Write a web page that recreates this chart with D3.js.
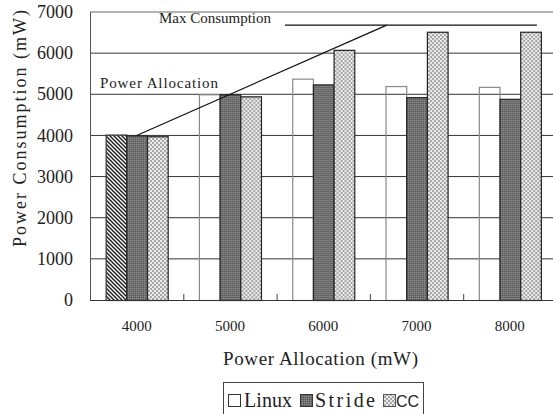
<!DOCTYPE html>
<html lang="en">
<head>
<meta charset="utf-8">
<title>Power Consumption</title>
<script src="https://cdn.jsdelivr.net/npm/d3@7"></script>
<style>
body { margin: 0; background: #fff; }
svg { display: block; }
.lbl { font-family: "Liberation Serif", "DejaVu Serif", serif; fill: #222; }
.serif { font-family: "Liberation Serif", serif; fill: #222; }
</style>
</head>
<body>
<script>
// values
var categories = ["4000", "5000", "6000", "7000", "8000"];
var seriesNames = ["Linux", "Stride", "CC"];
var linux  = [4020, 5000, 5380, 5200, 5180];
var stride = [4000, 5000, 5240, 4930, 4890];
var cc     = [3980, 4950, 6080, 6520, 6520];
var yTicks = [0, 1000, 2000, 3000, 4000, 5000, 6000, 7000];
var allocationLine = [[4000, 4000], [6680, 6680]];
var maxConsumptionLine = [[5590, 6680], [8290, 6680]];

var width = 553, height = 414;
var margin = {top: 12, left: 90, bottom: 300, right: 556.5};

var svg = d3.select("body").append("svg")
    .attr("width", width)
    .attr("height", height);

// patterns
var defs = svg.append("defs");
var hatch = defs.append("pattern").attr("id", "hatch")
    .attr("width", 4).attr("height", 4).attr("patternUnits", "userSpaceOnUse");
hatch.append("rect").attr("width", 4).attr("height", 4).attr("fill", "#fff");
hatch.append("path").attr("d", "M-1,-1L5,5M-1,3L1,5M3,-1L5,1")
    .attr("stroke", "#222").attr("stroke-width", 1.5);

var dark = defs.append("pattern").attr("id", "dark")
    .attr("width", 2).attr("height", 2).attr("patternUnits", "userSpaceOnUse");
dark.append("rect").attr("width", 2).attr("height", 2).attr("fill", "#707070");
dark.append("rect").attr("width", 1).attr("height", 1).attr("fill", "#8c8c8c");
dark.append("rect").attr("x", 1).attr("y", 1).attr("width", 1).attr("height", 1).attr("fill", "#5a5a5a");

var check = defs.append("pattern").attr("id", "check")
    .attr("width", 4).attr("height", 4).attr("patternUnits", "userSpaceOnUse");
check.append("rect").attr("width", 4).attr("height", 4).attr("fill", "#ececec");
check.append("rect").attr("width", 2).attr("height", 2).attr("fill", "#a6a6a6");
check.append("rect").attr("x", 2).attr("y", 2).attr("width", 2).attr("height", 2).attr("fill", "#a6a6a6");

var x = d3.scaleBand()
    .domain(categories)
    .range([margin.left, margin.right])
    .padding(0);

var groupW = x.bandwidth() * 0.665;
var xSub = d3.scaleBand()
    .domain(seriesNames)
    .range([(x.bandwidth() - groupW) / 2, (x.bandwidth() + groupW) / 2]);

var xLin = d3.scaleLinear()
    .domain([4000, 8000])
    .range([x("4000") + x.bandwidth() / 2, x("8000") + x.bandwidth() / 2]);

var y = d3.scaleLinear()
    .domain([0, 7000])
    .range([margin.bottom, margin.top]);

// gridlines
svg.append("g").selectAll("line")
    .data(yTicks.slice(1))
    .enter().append("line")
    .attr("x1", margin.left).attr("x2", margin.right)
    .attr("y1", function(d) { return y(d); })
    .attr("y2", function(d) { return y(d); })
    .attr("stroke", function(d) { return d == 7000 ? "#666" : "#333"; })
    .attr("stroke-width", 1);

// y tick labels
svg.append("g").selectAll("text")
    .data(yTicks)
    .enter().append("text")
    .attr("class", "serif")
    .attr("x", 73)
    .attr("y", function(d) { return y(d); })
    .attr("dy", "0.34em")
    .attr("text-anchor", "end")
    .style("font-size", "18px")
    .text(function(d) { return d; });

// bars
var rows = categories.map(function(c, i) {
    return [
        {cat: c, key: "Linux", value: linux[i], i: i},
        {cat: c, key: "Stride", value: stride[i], i: i},
        {cat: c, key: "CC", value: cc[i], i: i}
    ];
});

var group = svg.append("g").selectAll("g")
    .data(rows)
    .enter().append("g")
    .attr("transform", function(d) { return "translate(" + x(d[0].cat) + ",0)"; });

group.selectAll("rect")
    .data(function(d) { return d; })
    .enter().append("rect")
    .attr("x", function(d) { return xSub(d.key) + 0.5; })
    .attr("y", function(d) { return y(d.value) + 0.5; })
    .attr("width", xSub.bandwidth())
    .attr("height", function(d) { return y(0) - y(d.value); })
    .attr("fill", function(d) {
        if (d.key == "Linux") return d.i == 0 ? "url(#hatch)" : "none";
        return d.key == "Stride" ? "url(#dark)" : "url(#check)";
    })
    .attr("stroke", function(d) {
        if (d.key == "Linux") return d.i == 0 ? "#333" : "#8a8a8a";
        return "#222";
    })
    .attr("stroke-width", 1.2);

// axes frame
svg.append("line")
    .attr("x1", margin.left + 0.5).attr("x2", margin.left + 0.5)
    .attr("y1", margin.top).attr("y2", margin.bottom)
    .attr("stroke", "#555");
svg.append("line")
    .attr("x1", margin.left).attr("x2", margin.right)
    .attr("y1", margin.bottom + 0.5).attr("y2", margin.bottom + 0.5)
    .attr("stroke", "#333");

// small ticks between categories
svg.append("g").selectAll("line")
    .data(categories.slice(1))
    .enter().append("line")
    .attr("x1", function(d) { return x(d) + 0.5; })
    .attr("x2", function(d) { return x(d) + 0.5; })
    .attr("y1", margin.bottom - 6).attr("y2", margin.bottom)
    .attr("stroke", "#444");

// x tick labels
svg.append("g").selectAll("text")
    .data(categories)
    .enter().append("text")
    .attr("class", "serif")
    .attr("x", function(d) { return x(d) + x.bandwidth() / 2; })
    .attr("y", 331)
    .attr("text-anchor", "middle")
    .style("font-size", "15px")
    .text(function(d) { return d; });

// reference lines
var line = d3.line()
    .x(function(d) { return xLin(d[0]); })
    .y(function(d) { return y(d[1]); });

svg.append("path")
    .datum(allocationLine)
    .attr("d", line)
    .attr("fill", "none")
    .attr("stroke", "#111")
    .attr("stroke-width", 1.2);

svg.append("path")
    .datum(maxConsumptionLine)
    .attr("d", line)
    .attr("fill", "none")
    .attr("stroke", "#111")
    .attr("stroke-width", 1.2);

// annotations
svg.append("text")
    .attr("class", "lbl")
    .attr("x", 100).attr("y", 88)
    .attr("textLength", 118).attr("lengthAdjust", "spacing")
    .style("font-size", "15px")
    .text("Power Allocation");

svg.append("text")
    .attr("class", "lbl")
    .attr("x", 159).attr("y", 23)
    .attr("textLength", 112).attr("lengthAdjust", "spacing")
    .style("font-size", "15px")
    .text("Max Consumption");

// axis titles
svg.append("text")
    .attr("class", "lbl")
    .attr("x", 223).attr("y", 365)
    .attr("textLength", 195).attr("lengthAdjust", "spacing")
    .style("font-size", "19px")
    .text("Power Allocation (mW)");

svg.append("text")
    .attr("class", "lbl")
    .attr("transform", "translate(26,247) rotate(-90)")
    .attr("textLength", 237).attr("lengthAdjust", "spacing")
    .style("font-size", "18px")
    .text("Power Consumption (mW)");

// legend
var legend = svg.append("g");
legend.append("rect")
    .attr("x", 223.5).attr("y", 382.5)
    .attr("width", 200).attr("height", 40)
    .attr("fill", "none")
    .attr("stroke", "#444");

var legendItems = [
    {name: "Linux", fill: "#fff", stroke: "#333", sx: 228, tx: 244, tw: 48, serif: true},
    {name: "Stride", fill: "url(#dark)", stroke: "#333", sx: 300, tx: 315, tw: 60, serif: true},
    {name: "CC", fill: "url(#check)", stroke: "#555", sx: 383, tx: 396, tw: null, serif: false}
];

legend.selectAll(".sw")
    .data(legendItems)
    .enter().append("rect")
    .attr("class", "sw")
    .attr("x", function(d) { return d.sx + 0.5; })
    .attr("y", 394.5)
    .attr("width", 12).attr("height", 12)
    .attr("fill", function(d) { return d.fill; })
    .attr("stroke", function(d) { return d.stroke; });

legend.selectAll(".lt")
    .data(legendItems)
    .enter().append("text")
    .attr("class", function(d) { return d.serif ? "lt lbl" : "lt"; })
    .attr("x", function(d) { return d.tx; })
    .attr("y", 407)
    .attr("textLength", function(d) { return d.tw; })
    .attr("lengthAdjust", "spacing")
    .style("font-size", function(d) { return d.serif ? "20px" : "16px"; })
    .style("font-family", function(d) { return d.serif ? null : "Liberation Sans, sans-serif"; })
    .style("fill", "#222")
    .text(function(d) { return d.name; });
</script>
</body>
</html>
